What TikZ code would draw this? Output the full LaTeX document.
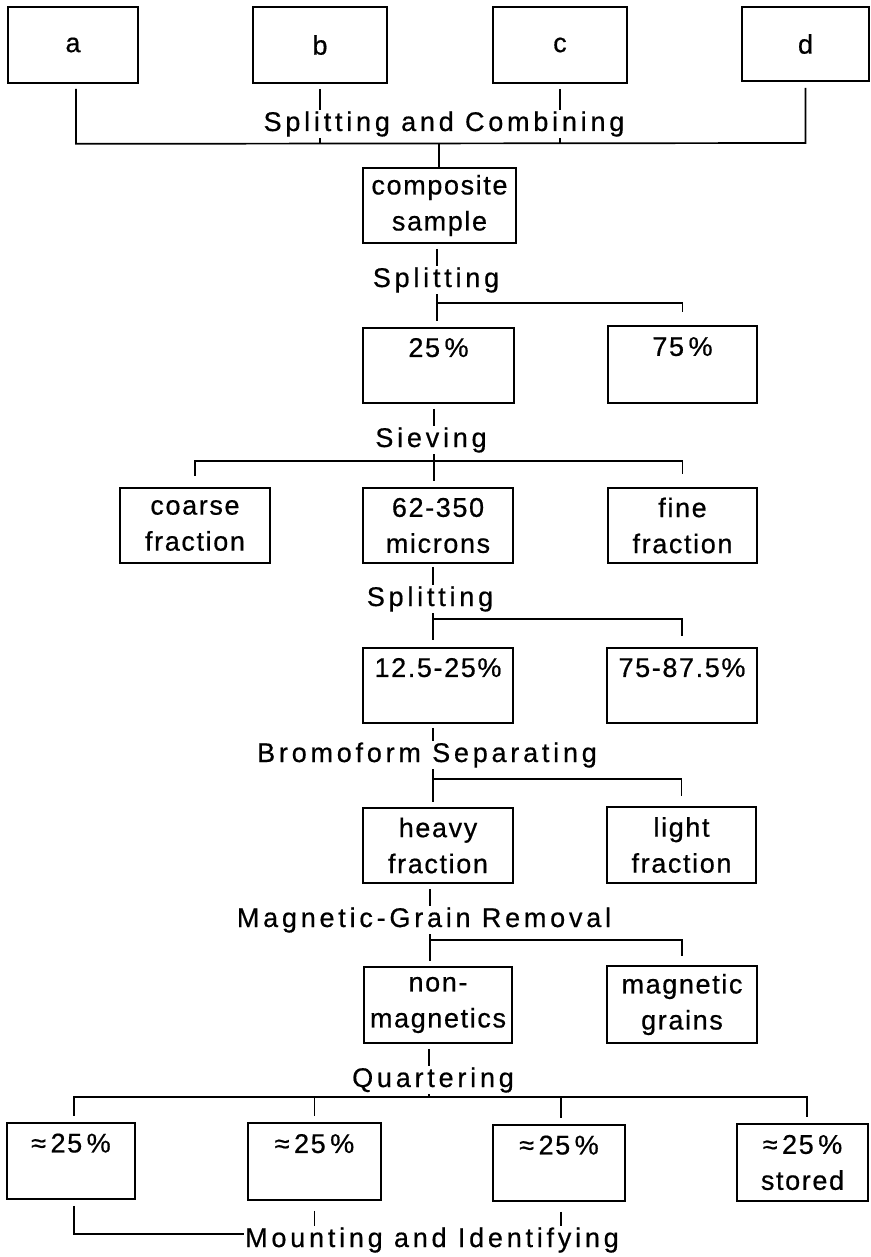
\documentclass[tikz,border=0pt]{standalone}
\usepackage{fontspec}
\setmainfont{Liberation Sans}
\newfontfamily\lblfont[LetterSpace=14,FakeBold=0.6]{Liberation Sans}
\newfontfamily\boxfont[LetterSpace=6,FakeBold=0.6]{Liberation Sans}
\begin{document}
\begin{tikzpicture}[x=1pt,y=-1pt,
  bx/.style={draw, line width=1.7pt, inner sep=0pt, align=center,
    font=\boxfont\fontsize{27}{36}\selectfont},
  lbl/.style={fill=white, inner sep=1pt, anchor=base,
    font=\lblfont\fontsize{27}{30}\selectfont},
  ln/.style={line width=1.7pt}]
\useasboundingbox[fill=white] (0,0) rectangle (870,1257);
% boxes
\node[bx, minimum width=130pt, minimum height=76pt] (a) at (73,45) {a};
\node[bx, minimum width=134pt, minimum height=76pt] (b) at (320,45) {b};
\node[bx, minimum width=134pt, minimum height=76pt] (c) at (560,45) {c};
\node[bx, minimum width=127pt, minimum height=74pt] (d) at (805.5,44) {d};
\node[bx, minimum width=153pt, minimum height=75pt] (comp) at (439.5,205.5) {composite\\sample};
\node[bx, minimum width=151pt, minimum height=75pt] (p25) at (438.5,365.5) {25\,\%\\\mbox{}};
\node[bx, minimum width=149pt, minimum height=77pt] (p75) at (682.5,364.5) {75\,\%\\\mbox{}};
\node[bx, minimum width=150pt, minimum height=75pt] (coarse) at (195,525.5) {coarse\\fraction};
\node[bx, minimum width=150pt, minimum height=75pt] (mic) at (438,525.5) {62-350\\microns};
\node[bx, minimum width=149pt, minimum height=75pt] (fine) at (682.5,525.5) {fine\\fraction};
\node[bx, minimum width=150pt, minimum height=75pt] (p12) at (438,685.5) {12.5-25\%\\\mbox{}};
\node[bx, minimum width=150pt, minimum height=75pt] (p87) at (682,685.5) {75-87.5\%\\\mbox{}};
\node[bx, minimum width=150pt, minimum height=75pt] (heavy) at (438,845.5) {heavy\\fraction};
\node[bx, minimum width=149pt, minimum height=76pt] (light) at (681.5,845) {light\\fraction};
\node[bx, minimum width=148pt, minimum height=76pt] (nonmag) at (438,1005) {non-\\magnetics};
\node[bx, minimum width=150pt, minimum height=77pt] (mag) at (682,1004.5) {magnetic\\grains};
\node[bx, minimum width=128pt, minimum height=76pt] (q1) at (71,1161) {≈\,25\,\%\\\mbox{}};
\node[bx, minimum width=133pt, minimum height=77pt] (q2) at (314.5,1161.5) {≈\,25\,\%\\\mbox{}};
\node[bx, minimum width=132pt, minimum height=76pt] (q3) at (559,1163) {≈\,25\,\%\\\mbox{}};
\node[bx, minimum width=131pt, minimum height=77pt] (q4) at (802.5,1162.5) {≈\,25\,\%\\stored};
\node[lbl] (l8) at (432,1247) {Mounting and Identifying};
% bus coordinates
\coordinate (c1) at (439,143);
\coordinate (s1) at (437,303);
\coordinate (s2) at (434,461);
\coordinate (s3) at (433,619);
\coordinate (s4) at (433,779);
\coordinate (s5) at (430,940);
\coordinate (s6) at (429,1097);
\coordinate (m1) at (74,1234);
% connectors
\draw[ln] (a.south) ++(3,5) -- ++(0,55) -- (d.south |- c1) -- ++(0,-55);
\draw[ln] (b.south) ++(0,5) -- (b.south |- c1);
\draw[ln] (c.south) ++(0,5) -- (c.south |- c1);
\draw[ln] (c1) -- (c1 |- comp.north);
\draw[ln, shorten >=6pt] (s1 |- comp.south) ++(0,5) -- (s1) -- (s1 |- p25.north);
\draw[ln, shorten >=13pt] (s1) -- (s1 -| p75.north) -- (p75.north);
\draw[ln, shorten >=6pt] (s2 |- p25.south) ++(0,5) -- (s2 |- mic.north);
\draw[ln, shorten >=11pt] (s2) -- (s2 -| coarse.north) -- (coarse.north);
\draw[ln, shorten >=13pt] (s2) -- (s2 -| fine.north) -- (fine.north);
\draw[ln, shorten >=7pt] (s3 |- mic.south) ++(0,3) -- (s3) -- (s3 |- p12.north);
\draw[ln, shorten >=11pt] (s3) -- (s3 -| p87.north) -- (p87.north);
\draw[ln, shorten >=5pt] (s4 |- p12.south) ++(0,4) -- (s4) -- (s4 |- heavy.north);
\draw[ln, shorten >=10pt] (s4) -- (s4 -| light.north) -- (light.north);
\draw[ln, shorten >=5pt] (s5 |- heavy.south) ++(0,5) -- (s5) -- (s5 |- nonmag.north);
\draw[ln, shorten >=9pt] (s5) -- (s5 -| mag.north) -- (mag.north);
\draw[ln] (s6 |- nonmag.south) ++(0,5) -- (s6);
\draw[ln, shorten >=6pt] (s6) -- ([xshift=3pt]s6 -| q1.north) -- ([xshift=3pt]q1.north);
\draw[ln, shorten >=6pt] (s6) -- ([xshift=4.5pt]s6 -| q4.north) -- ([xshift=4.5pt]q4.north);
\draw[ln, shorten >=6pt] (s6 -| q2.north) -- (q2.north);
\draw[ln, shorten >=6pt] ([xshift=2pt]s6 -| q3.north) -- ([xshift=2pt]q3.north);
\draw[ln] (q1.south) ++(3,6) -- (m1) -- (m1 -| l8.west);
\draw[ln] (q2.south) ++(0,10) -- (q2.south |- l8.north);
\draw[ln] (q3.south) ++(2,10) -- ([xshift=2pt]q3.south |- l8.north);
% labels over connectors
\node[lbl] (l1) at (444,131) {Splitting and Combining};
\node[lbl] (l2) at (436,287) {Splitting};
\node[lbl] (l3) at (431,447) {Sieving};
\node[lbl] (l4) at (430,606) {Splitting};
\node[lbl] (l5) at (427,762) {Bromoform Separating};
\node[lbl] (l6) at (424,927) {Magnetic-Grain Removal};
\node[lbl] (l7) at (433,1087) {Quartering};
\end{tikzpicture}
\end{document}
